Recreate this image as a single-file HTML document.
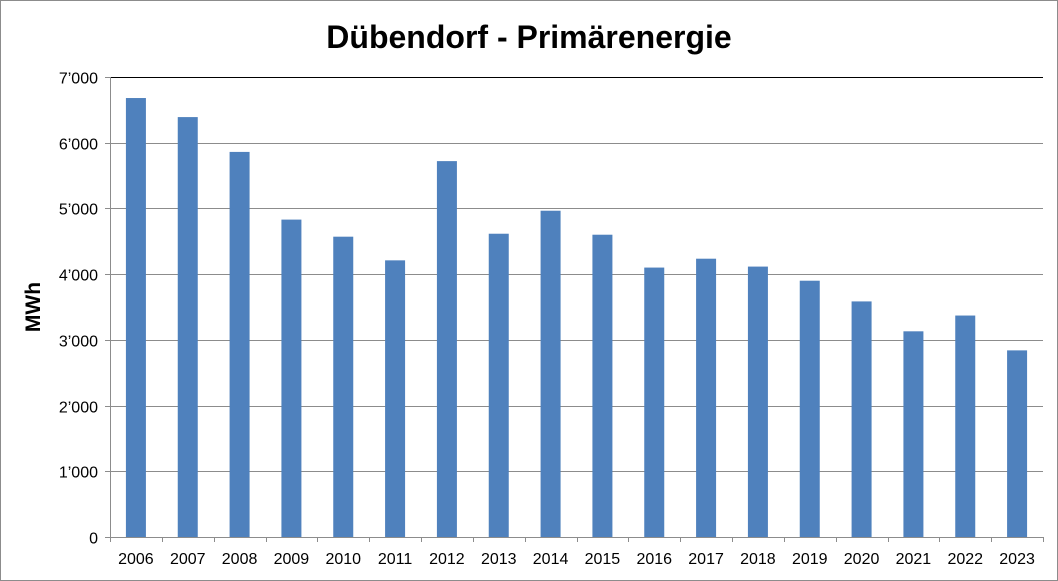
<!DOCTYPE html>
<html><head><meta charset="utf-8"><style>
html,body{margin:0;padding:0;background:#fff;}
svg{display:block;font-family:"Liberation Sans",sans-serif;}
</style></head><body>
<svg id="chart" width="1058" height="581">
<rect x="0.5" y="0.5" width="1057" height="580" fill="#fff" stroke="#8c8c8c"/>
<text x="529" y="48" text-anchor="middle" font-size="32" font-weight="bold" fill="#000">Dübendorf - Primärenergie</text>
<text transform="translate(40,307) rotate(-90)" text-anchor="middle" font-size="21" font-weight="bold" fill="#000">MWh</text>
<g id="grid"></g><g id="bars"></g><g id="axes"></g>
</svg>
<script>
const categories=["2006","2007","2008","2009","2010","2011","2012","2013","2014","2015","2016","2017","2018","2019","2020","2021","2022","2023"];
const values=[6680,6390,5860,4830,4570,4210,5720,4615,4965,4600,4100,4235,4115,3900,3585,3130,3370,2840];
const yTicks=[0,1000,2000,3000,4000,5000,6000,7000];
const yTickLabels=["0","1’000","2’000","3’000","4’000","5’000","6’000","7’000"];
const NS="http://www.w3.org/2000/svg";
const x0=110,x1=1043,yTop=77,yBot=537,yMax=7000;
const y=v=>yBot-(v/yMax)*(yBot-yTop);
const band=(x1-x0)/categories.length;
const xc=i=>x0+band*(i+0.5);
function mk(tag,attrs,parent){const e=document.createElementNS(NS,tag);for(const k in attrs)e.setAttribute(k,attrs[k]);parent.appendChild(e);return e;}
const grid=document.getElementById('grid'),bars=document.getElementById('bars'),axes=document.getElementById('axes');
yTicks.forEach((t,i)=>{
  const gy=Math.round(y(t))+0.5;
  const l=mk('line',{x1:x0,x2:x1,y1:gy,y2:gy,stroke:i===yTicks.length-1?'#000':'#8c8c8c','stroke-width':1},grid);
  
  
  const tk=mk('line',{x1:x0-5,x2:x0,y1:gy,y2:gy,stroke:'#8c8c8c'},axes);
  
  
  const tx=mk('text',{x:x0-12,y:gy+6,'text-anchor':'end','font-size':16,fill:'#000'},axes);
  tx.textContent=yTickLabels[i];
  
  
});
const ax=mk('line',{x1:x0+0.5,x2:x0+0.5,y1:yTop,y2:yBot+5,stroke:'#8c8c8c'},axes);


categories.forEach((c,i)=>{
  const bw=20,top=y(values[i]);
  const r=mk('rect',{x:xc(i)-bw/2,y:top,width:bw,height:yBot-top,fill:'#4f81bd'},bars);
  
  
  const tk=mk('line',{x1:Math.round(x0+band*(i+1))+0.5,x2:Math.round(x0+band*(i+1))+0.5,y1:yBot,y2:yBot+5,stroke:'#8c8c8c'},axes);
  
  
  const t=mk('text',{x:xc(i),y:yBot+27,'text-anchor':'middle','font-size':16,fill:'#000'},axes);
  t.textContent=c;
  
  
});
</script>
</body></html>
